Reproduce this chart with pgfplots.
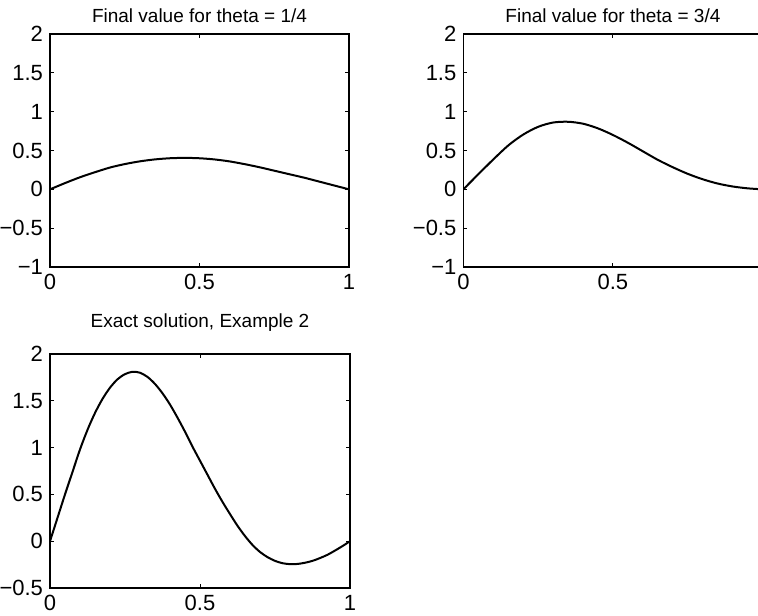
\documentclass[border=0pt]{standalone}
\usepackage{fontspec}
\setmainfont{Liberation Sans}
\usepackage{pgfplots}
\pgfplotsset{compat=1.18}

\pgfplotsset{
  mlab/.style={
    scale only axis,
    xmin=0,xmax=1,
    xtick={0,0.5,1},
    xticklabels={0,0.5,1},
    tick pos=both,
    tick align=inside,
    major tick length=2pt,
    axis line style={line width=0.7pt},
    every tick/.style={black,line width=0.5pt},
    tick label style={font=\fontsize{11}{13}\selectfont},
    title style={font=\fontsize{9.5}{11}\selectfont,yshift=-4pt},
    /pgf/number format/assume math mode=true,
  },
  curve/.style={black,line width=1pt,no markers,smooth},
}

\begin{document}
\begin{tikzpicture}[font=\fontsize{9.5}{11}\selectfont]
\path[use as bounding box] (0,0) rectangle (379pt,-307.5pt);

% theta = 1/4
\begin{axis}[mlab,at={(25pt,-17pt)},anchor=north west,
  width=149.5pt,height=116.5pt,
  ymin=-1,ymax=2,ytick={-1,-0.5,0,0.5,1,1.5,2},
  yticklabels={−1,−0.5,0,0.5,1,1.5,2},
  title={Final value for theta = 1/4}]
\addplot[curve] coordinates {
(0,0) (0.05,0.08) (0.1,0.155) (0.15,0.22) (0.2,0.28) (0.25,0.325)
(0.3,0.36) (0.35,0.385) (0.4,0.40) (0.45,0.405) (0.5,0.40) (0.55,0.385)
(0.6,0.36) (0.65,0.325) (0.7,0.285) (0.75,0.24) (0.8,0.195) (0.85,0.15)
(0.9,0.10) (0.95,0.05) (1,0)};
\end{axis}

% theta = 3/4 (right edge is cut off in the original)
\begin{axis}[mlab,at={(231.7pt,-17pt)},anchor=north west,
  width=149.5pt,height=116.5pt,
  xticklabels={0,0.5,{}},
  ymin=-1,ymax=2,ytick={-1,-0.5,0,0.5,1,1.5,2},
  yticklabels={−1,−0.5,0,0.5,1,1.5,2},
  title={Final value for theta = 3/4}]
\addplot[curve] coordinates {
(0,0) (0.05,0.195) (0.1,0.385) (0.15,0.565) (0.2,0.705) (0.25,0.805)
(0.3,0.86) (0.35,0.87) (0.4,0.845) (0.45,0.785) (0.5,0.70) (0.55,0.60)
(0.6,0.49) (0.65,0.38) (0.7,0.285) (0.75,0.20) (0.8,0.13) (0.85,0.075)
(0.9,0.037) (0.95,0.013) (1,0)};
\end{axis}

% exact solution
\begin{axis}[mlab,at={(25pt,-177pt)},anchor=north west,
  width=150pt,height=117pt,
  ymin=-0.5,ymax=2,ytick={-0.5,0,0.5,1,1.5,2},
  yticklabels={−0.5,0,0.5,1,1.5,2},
  title style={yshift=5.5pt},
  title={Exact solution, Example 2}]
\addplot[curve] coordinates {
(0,0) (0.025,0.25) (0.05,0.50) (0.075,0.74) (0.1,0.98) (0.125,1.19)
(0.15,1.37) (0.175,1.52) (0.2,1.64) (0.225,1.73) (0.25,1.785) (0.275,1.81)
(0.3,1.80) (0.325,1.755) (0.35,1.68) (0.375,1.58) (0.4,1.46) (0.425,1.32)
(0.45,1.17) (0.475,1.01) (0.5,0.86) (0.525,0.71) (0.55,0.56) (0.575,0.42)
(0.6,0.29) (0.625,0.165) (0.65,0.055) (0.675,-0.04) (0.7,-0.115) (0.725,-0.17)
(0.75,-0.21) (0.775,-0.235) (0.8,-0.245) (0.825,-0.243) (0.85,-0.23)
(0.875,-0.21) (0.9,-0.18) (0.925,-0.145) (0.95,-0.10) (0.975,-0.052) (1,0)};
\end{axis}
\end{tikzpicture}
\end{document}
